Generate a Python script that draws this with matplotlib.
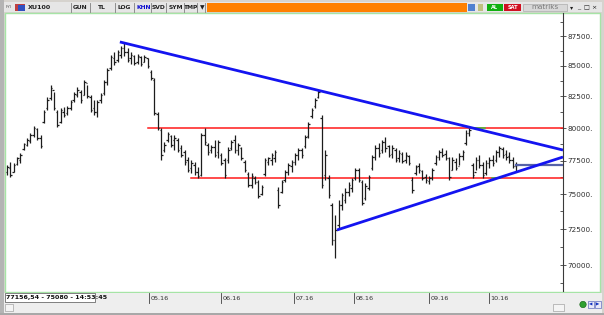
import numpy as np
import matplotlib
matplotlib.use("Agg")
import matplotlib.pyplot as plt
from matplotlib.patches import Rectangle
from matplotlib.ticker import NullFormatter, FixedLocator

# ---------------- data (XU100 daily OHLC) ----------------
opens = [76640, 76940, 76640, 77240, 77540, 78380, 78680, 78990, 79460, 79920,
         79220, 80470, 81580, 82370, 83020, 81260, 80470, 81260, 81180, 81580,
         82210, 82620, 82860, 82620, 83590, 82450, 81580, 81260, 82210, 82780,
         83670, 84820, 85650, 85480, 85900, 86490, 86150, 85650, 85820, 85320,
         85730, 85320, 85650, 84490, 83830, 81100, 79840, 78300, 79070, 79380,
         79070, 79070, 78450, 78150, 77540, 76940, 77170, 76640, 76420, 79460,
         78680, 78300, 78530, 78150, 77920, 77540, 77540, 78450, 79070, 78300,
         78450, 77390, 76490, 75680, 76200, 75900, 75020, 76490, 77390, 77540,
         77690, 75310, 75160, 76050, 76640, 77090, 77390, 77920, 78300, 78610,
         79380, 80940, 81730, 82450, 80780, 76420, 76200, 74220, 71730, 72780,
         74220, 74580, 75160, 75460, 76200, 76790, 75900, 74730, 75460, 76940,
         77770, 78450, 78300, 78910, 78610, 78000, 78300, 77690, 78000, 77540,
         77850, 76050, 76570, 77090, 76720, 76270, 75970, 76200, 77320, 77770,
         78150, 78000, 77690, 76790, 77390, 77090, 77850, 78840, 79610, 77170,
         76640, 77540, 77170, 76570, 77320, 77540, 77540, 78150, 78380, 78000,
         77850, 77540, 77090]
highs = [77170, 77390, 77320, 77770, 78070, 78840, 79220, 79610, 80160, 80000,
         79460, 81420, 82450, 83420, 82860, 81420, 81580, 81650, 81730, 82210,
         82860, 83260, 83020, 83830, 83420, 82620, 82210, 82210, 82780, 83830,
         84820, 85900, 86150, 86320, 86660, 86910, 86490, 86150, 85900, 85980,
         85820, 85900, 85650, 84650, 84000, 81260, 80000, 78910, 79690, 79460,
         79460, 79220, 78680, 78300, 77770, 77540, 77390, 77020, 79610, 80000,
         78840, 78680, 79070, 79070, 78070, 77690, 78530, 79070, 79460, 78840,
         78530, 77540, 76640, 76570, 76340, 76050, 75680, 77690, 77770, 78070,
         78300, 75530, 76050, 76790, 77320, 77540, 78070, 78450, 78450, 79460,
         80470, 81580, 82370, 83020, 81020, 78300, 76420, 74360, 73500, 74580,
         75090, 75460, 75900, 76200, 76940, 76940, 76050, 75830, 76420, 77920,
         78680, 78840, 79070, 79300, 78680, 78680, 78450, 78300, 78150, 78150,
         77920, 76270, 77170, 77320, 76790, 76490, 76340, 76940, 77920, 78300,
         78450, 78300, 77770, 77770, 77690, 78070, 78300, 79840, 80000, 77320,
         77770, 77920, 77390, 77540, 77770, 77920, 78300, 78610, 78530, 78300,
         78150, 77770, 77390]
lows = [76420, 76270, 76640, 77170, 77320, 78300, 78610, 78840, 79300, 79070,
        78450, 80390, 81420, 82210, 81420, 80080, 80390, 80860, 81020, 81420,
        82050, 82450, 81970, 82620, 82370, 81260, 81020, 80860, 81970, 82620,
        83420, 84650, 85070, 85320, 85650, 85820, 85320, 85150, 85070, 85150,
        84980, 85320, 84820, 83830, 81020, 79840, 77540, 78150, 78910, 78530,
        78300, 78150, 77770, 77170, 76640, 76570, 76420, 76200, 76340, 78680,
        77920, 78070, 77770, 77690, 77170, 76200, 77320, 78300, 78070, 77920,
        77540, 76640, 75530, 75460, 75750, 74730, 74940, 76340, 77170, 77170,
        77390, 74000, 75090, 75900, 76420, 76640, 77170, 77540, 77690, 78450,
        79220, 80780, 81580, 82370, 75460, 76050, 74730, 71380, 70480, 72570,
        73860, 74360, 74870, 75160, 76050, 75900, 74220, 74580, 75310, 76790,
        77540, 77770, 78070, 78150, 77770, 77690, 77390, 77390, 77320, 77320,
        77170, 75090, 76420, 76570, 76050, 75830, 75750, 76050, 77170, 77540,
        77770, 77540, 76050, 76790, 76790, 77170, 77540, 78680, 79380, 76200,
        76790, 76940, 76200, 76420, 76940, 77090, 77390, 77770, 77690, 77540,
        77320, 76940, 76640]
closes = [77020, 76420, 77170, 77690, 77920, 78760, 79070, 79460, 80000, 79220,
          78610, 81260, 82210, 83180, 81580, 80230, 81420, 81020, 81580, 82050,
          82700, 83020, 82210, 83670, 82540, 81420, 81260, 82050, 82620, 83670,
          84650, 85730, 85320, 86150, 86490, 86150, 85480, 85900, 85230, 85820,
          85150, 85730, 84980, 84000, 81180, 80000, 77920, 78680, 79530, 78680,
          79220, 78300, 77920, 77390, 76790, 77320, 76640, 76340, 79460, 78910,
          78150, 78530, 77920, 78910, 77320, 76420, 78300, 78910, 78300, 78680,
          77690, 76790, 75680, 76340, 75900, 74870, 75530, 77540, 77690, 77920,
          78150, 74220, 75900, 76640, 77170, 77390, 77920, 78300, 77920, 79300,
          80310, 81420, 82210, 82860, 75680, 77920, 74940, 71730, 72430, 74220,
          74940, 75160, 75680, 76050, 76790, 76050, 74360, 75600, 76270, 77770,
          78450, 78070, 78910, 78450, 77920, 78450, 77540, 78070, 77470, 77920,
          77320, 75310, 77020, 76790, 76200, 76050, 76200, 76790, 77770, 78150,
          77920, 77690, 76270, 77540, 76940, 77850, 78150, 79610, 79840, 76420,
          77540, 77170, 76420, 77320, 77540, 77320, 78150, 78450, 77920, 77770,
          77540, 77090, 77170]

# trend lines drawn by the analyst (bar index, price)
down_trend_x = [33.7, 166.0]
down_trend_y = [87000, 78300]
up_trend_x = [98.5, 166.0]
up_trend_y = [72430, 77770]
resistance_x = [42.1, 166.0]
resistance = 80000
support_x = [54.9, 166.0]
support = 76170
last_x = [152.0, 166.0]
last_price = 77156.54
cross_hi_x = [138.8, 142.7]
cross_lo_x = [144.8, 147.2]

month_pos = [42.4, 63.9, 85.7, 103.6, 125.9, 143.9]
month_labels = ["05.16", "06.16", "07.16", "08.16", "09.16", "10.16"]
ytick_vals = [70000, 72500, 75000, 77500, 80000, 82500, 85000, 87500]
yminor_vals = [68750, 71250, 73750, 76250, 78750, 81250, 83750, 86250, 88750]
status_text = "77156,54 - 75080 - 14:53:45"
symbol = "XU100"

# ---------------- figure ----------------
W, H = 604, 315
fig = plt.figure(figsize=(W / 100, H / 100), dpi=100)
fig.patch.set_facecolor("#d6d3ce")

bg = fig.add_axes([0, 0, 1, 1], zorder=0)
bg.set_xlim(0, W)
bg.set_ylim(H, 0)
bg.axis("off")

def rect(x0, y0, x1, y1, fc, ec="none", lw=0.6, z=1):
    bg.add_patch(Rectangle((x0, y0), x1 - x0, y1 - y0, facecolor=fc,
                           edgecolor=ec, linewidth=lw, zorder=z))

# left dark strip
rect(0, 0, 4, H, "#b4b4b4")
# toolbar
rect(4, 2, 602, 12, "#e6e6e6")
bg.text(6, 7.5, "FYI", fontsize=3, color="#555555", va="center", zorder=3)
rect(15, 3.5, 25, 10.5, "#c04040", z=2)
rect(18, 5, 25, 10.5, "#3050c0", z=2)
bg.text(28, 7.3, symbol, fontsize=4.6, fontweight="bold", color="#202020", va="center", zorder=3)
buttons = [("GUN", 80, "#202020"), ("TL", 102, "#202020"), ("LOG", 124, "#202020"),
           ("KHN", 144, "#1010d0"), ("SVD", 158.5, "#202020"), ("SYM", 176, "#202020"),
           ("TMP", 191, "#202020"), ("\u25bc", 202, "#202020")]
for lab, xc, col in buttons:
    bg.text(xc, 7.3, lab, fontsize=4.3, fontweight="bold", color=col, ha="center",
            va="center", zorder=3)
for xs in [71, 90, 115, 134, 151, 166, 184, 197, 205]:
    bg.plot([xs, xs], [3, 11.5], color="#808080", lw=0.6, zorder=3)
rect(207, 3, 467, 11.5, "#ff8000")
rect(468, 3.5, 475, 10.5, "#5080d0", z=2)
rect(478, 3.5, 483, 10.5, "#c0c080", z=2)
rect(487, 4, 503, 10.5, "#10b010", z=2)
bg.text(495, 7.3, "AL", fontsize=3.6, fontweight="bold", color="white", ha="center", va="center", zorder=3)
rect(504, 4, 521, 10.5, "#d01020", z=2)
bg.text(512.5, 7.3, "SAT", fontsize=3.6, fontweight="bold", color="white", ha="center", va="center", zorder=3)
rect(523, 3.5, 567, 11, "#d8d8d8", ec="#a0a0a0", lw=0.4, z=2)
bg.text(545, 7.3, "matriks", fontsize=5.2, color="#7a7a7a", ha="center", va="center", zorder=3)
for lab, xc in [("\u25be", 572), ("_", 579), ("\u25a1", 586), ("\u00d7", 594)]:
    bg.text(xc, 7.3, lab, fontsize=4.5, color="#202020", ha="center", va="center", zorder=3)

# chart area (white) with green border
rect(5, 12.5, 600, 292, "white", ec="#a6e4a6", lw=1.0)
# bottom band
rect(4, 292.5, 602, 313, "#eeeeee")
rect(0, 313, W, H, "#a8a8a8")
rect(5, 293, 95, 302, "white", ec="#505050", lw=0.5, z=2)
bg.text(6, 297.6, status_text, fontsize=4.6, fontweight="bold", color="#101010",
        va="center", zorder=3)
rect(5, 304, 13, 311, "#f4f4f4", ec="#909090", lw=0.4, z=2)
rect(553, 304, 564, 311, "#f4f4f4", ec="#909090", lw=0.4, z=2)
bg.add_patch(plt.Circle((583, 304.5), 3.2, facecolor="#30a030", edgecolor="#106010", lw=0.4, zorder=3))
rect(588, 301, 594, 308, "#e8e8f8", ec="#4050b0", lw=0.4, z=2)
rect(595, 301, 601, 308, "#e8e8f8", ec="#4050b0", lw=0.4, z=2)
bg.text(591, 304.5, "\u25c0", fontsize=3.2, color="#1030c0", ha="center", va="center", zorder=3)
bg.text(598, 304.5, "\u25b6", fontsize=3.2, color="#1030c0", ha="center", va="center", zorder=3)

# ---------------- main price axes ----------------
ax_l, ax_r, ax_t, ax_b = 5, 563, 13, 291
ax = fig.add_axes([ax_l / W, 1 - ax_b / H, (ax_r - ax_l) / W, (ax_b - ax_t) / H], zorder=2)
ax.set_facecolor("none")
ax.set_yscale("log")
ax.set_ylim(68249, 89489)
ax.set_xlim(-0.6, 166.0)

idx = np.arange(len(closes))
bar_col = "#1c1c1c"
ax.vlines(idx, lows, highs, color=bar_col, lw=0.9, zorder=3)
ax.hlines(opens, idx - 0.45, idx, color=bar_col, lw=0.9, zorder=3)
ax.hlines(closes, idx, idx + 0.45, color=bar_col, lw=0.9, zorder=3)

ax.plot(resistance_x, [resistance, resistance], color="#ff1a1a", lw=1.1, zorder=2)
ax.plot(support_x, [support, support], color="#ff1a1a", lw=1.1, zorder=2)
ax.plot(cross_hi_x, [resistance, resistance], color="#3cc83c", lw=1.1, zorder=2.5)
ax.plot(cross_lo_x, [support, support], color="#3cc83c", lw=1.1, zorder=2.5)
ax.plot(down_trend_x, down_trend_y, color="#1414f0", lw=2.0, zorder=4, solid_capstyle="butt")
ax.plot(up_trend_x, up_trend_y, color="#1414f0", lw=2.0, zorder=4, solid_capstyle="butt")
ax.plot(last_x, [last_price, last_price], color="#5662a8", lw=1.6, zorder=3.5)

for s in ["left", "top", "bottom"]:
    ax.spines[s].set_visible(False)
ax.spines["right"].set_color("#3a3a3a")
ax.spines["right"].set_linewidth(0.8)
ax.set_xticks([])
ax.yaxis.tick_right()
ax.yaxis.set_major_locator(FixedLocator(ytick_vals))
ax.yaxis.set_minor_locator(FixedLocator(yminor_vals))
ax.yaxis.set_minor_formatter(NullFormatter())
ax.set_yticklabels([f"{v}." for v in ytick_vals])
ax.tick_params(axis="y", which="major", direction="inout", length=4, width=0.6,
               color="#3a3a3a", labelsize=5.2, labelcolor="#303030", pad=1.5)
ax.tick_params(axis="y", which="minor", direction="in", length=2.5, width=0.6,
               color="#3a3a3a")

# month labels in the bottom band
xt = ax.get_xaxis_transform()
for p, lab in zip(month_pos, month_labels):
    ax.plot([p, p], [-0.007, -0.043], transform=xt, color="#404040", lw=0.6, clip_on=False)
    ax.text(p + 0.5, -0.026, lab, transform=xt, fontsize=4.6, color="#303030",
            ha="left", va="center", clip_on=False)

fig.savefig("out.png", dpi=100, facecolor=fig.get_facecolor())
